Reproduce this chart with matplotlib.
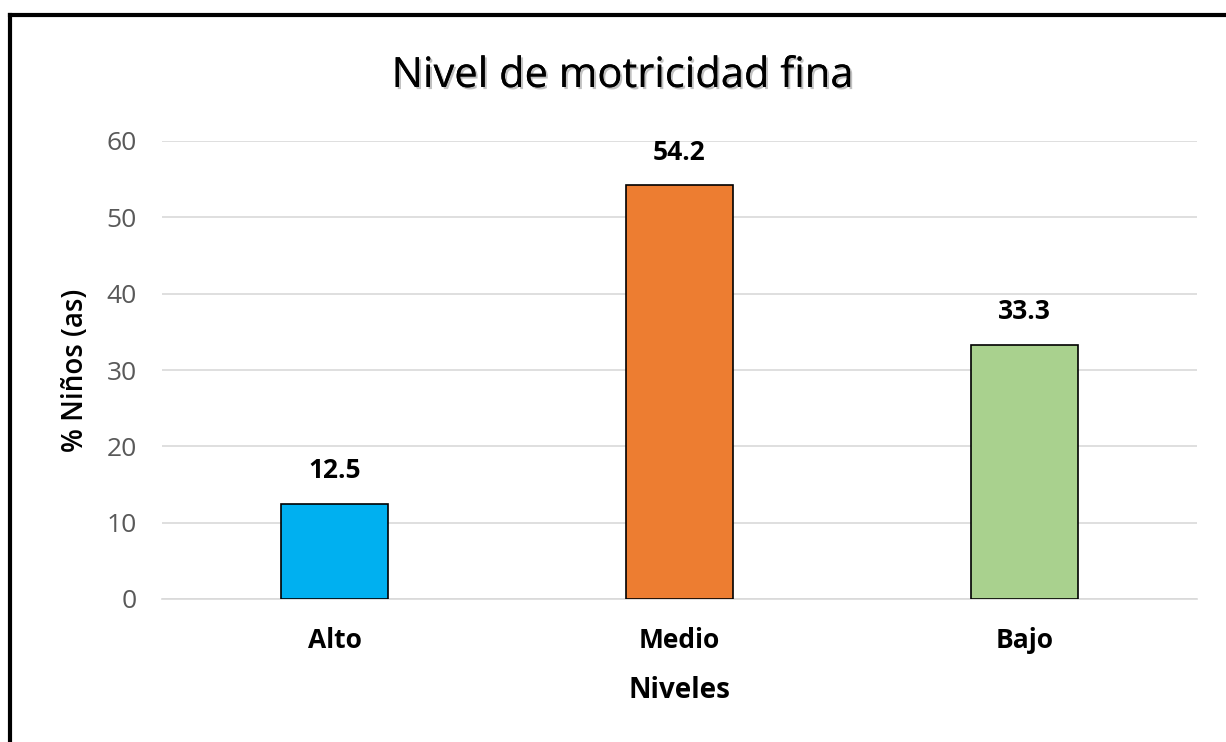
import matplotlib
matplotlib.use("Agg")
import matplotlib.pyplot as plt
import matplotlib.patheffects as pe
from matplotlib.lines import Line2D
import numpy as np

# data
niveles = ["Alto", "Medio", "Bajo"]
porcentajes = [12.5, 54.2, 33.3]
colores = ["#00B0F0", "#ED7D31", "#A9D18E"]
yticks = [0, 10, 20, 30, 40, 50, 60]

plt.rcParams["font.family"] = ["Open Sans", "DejaVu Sans"]

fig = plt.figure(figsize=(12.26, 7.42), dpi=100)
ax = fig.add_axes([162 / 1226, 1 - 599 / 742, 1035 / 1226, 458 / 742])

x = np.arange(len(niveles))
ax.bar(x, porcentajes, width=0.31, color=colores, edgecolor="black",
       linewidth=1.2, zorder=3)
for i, v in enumerate(porcentajes):
    ax.annotate(f"{v:.1f}", (i, v), xytext=(0, 14), textcoords="offset points",
                ha="center", va="bottom", fontsize=19, fontweight="bold",
                color="black")

ax.set_xlim(-0.5, 2.5)
ax.set_ylim(0, 60)
ax.set_yticks(yticks)
ax.yaxis.grid(True, color="#D9D9D9", linewidth=1.2, zorder=0)
ax.set_axisbelow(True)
for s in ["top", "right", "left"]:
    ax.spines[s].set_visible(False)
ax.spines["bottom"].set_color("#D9D9D9")
ax.spines["bottom"].set_linewidth(1.2)
ax.tick_params(axis="y", length=0, pad=18, labelsize=19, labelcolor="#595959")
ax.tick_params(axis="x", length=0, pad=20, labelsize=19)
ax.set_xticks(x)
ax.set_xticklabels(niveles, fontweight="bold")

ax.set_xlabel("Niveles", fontsize=20, fontweight="bold", labelpad=16)
ax.set_ylabel("% Niños (as)", fontsize=20, fontweight="semibold", labelpad=12)

fig.text(0.508, 1 - 76 / 742, "Nivel de motricidad fina", ha="center",
         va="center", fontsize=30, color="black",
         path_effects=[pe.withSimplePatchShadow(offset=(1.5, -1.5),
                                                shadow_rgbFace="#999999",
                                                alpha=0.6),
                       pe.Normal()])

# frame around the chart (only left and top edges are visible in the crop)
fig.add_artist(Line2D([10 / 1226, 10 / 1226], [0, 1 - 15 / 742],
                      color="black", linewidth=3, transform=fig.transFigure))
fig.add_artist(Line2D([10 / 1226, 1], [1 - 15 / 742, 1 - 15 / 742],
                      color="black", linewidth=3, transform=fig.transFigure))

fig.savefig("out.png", dpi=100)
